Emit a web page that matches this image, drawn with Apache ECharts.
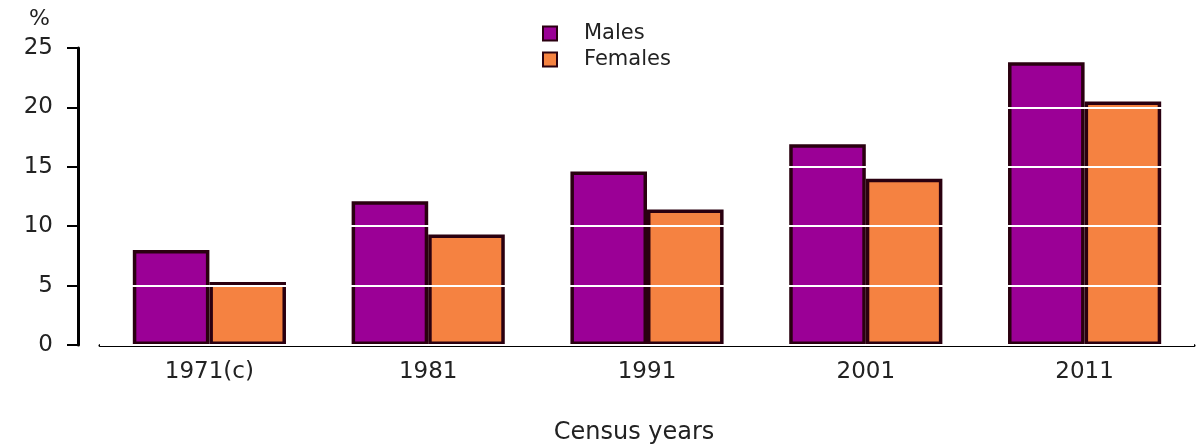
<!DOCTYPE html>
<html><head><meta charset="utf-8">
<script src="https://cdn.jsdelivr.net/npm/echarts@6/dist/echarts.min.js"></script>
<style>html,body{margin:0;padding:0;background:#fff}#c{width:1198px;height:445px}</style>
</head><body><div id="c"></div>
<script>
const categories = ['1971(c)', '1981', '1991', '2001', '2011'];
const males = [8.0, 12.1, 14.6, 16.9, 23.8];
const females = [5.3, 9.3, 11.4, 14.0, 20.5];
const yTicks = [0, 5, 10, 15, 20, 25];

const chart = echarts.init(document.getElementById('c'));
const font = 'DejaVu Sans';
chart.setOption({
  animation: false,
  textStyle: { fontFamily: font },
  title: { text: '%', left: 24, top: 3, textStyle: { fontFamily: font, fontSize: 22, fontWeight: 'normal', color: '#222' } },
  legend: {
    orient: 'vertical', left: 537, top: 18, itemWidth: 14, itemHeight: 14, itemGap: 5,
    icon: 'rect',
    textStyle: { fontFamily: font, fontSize: 21, color: '#222', padding: [0, 0, 0, 22] },
    data: ['Males', 'Females']
  },
  grid: { left: 100, right: 4, top: 48, bottom: 100, outerBoundsMode: 'none', containLabel: false },
  xAxis: {
    type: 'category', data: categories,
    axisLine: { lineStyle: { color: '#000', width: 3 } },
    axisTick: { alignWithLabel: true, length: 6, lineStyle: { color: '#000', width: 2 } },
    axisLabel: { fontFamily: font, fontSize: 23, color: '#222', margin: 16 },
    name: 'Census years', nameLocation: 'middle', nameGap: 76,
    nameTextStyle: { fontFamily: font, fontSize: 24, color: '#222', padding: [0, 26, 0, 0] }
  },
  yAxis: {
    type: 'value', min: yTicks[0], max: yTicks[yTicks.length - 1], interval: 5,
    offset: 22, z: 5,
    axisLine: { show: true, lineStyle: { color: '#000', width: 3 } },
    axisTick: { show: true, length: 11, lineStyle: { color: '#000', width: 2 } },
    axisLabel: { fontFamily: font, fontSize: 23, color: '#222', margin: 25 },
    splitLine: { show: true, lineStyle: { color: '#fff', width: 2 } }
  },
  series: [
    { name: 'Males', type: 'bar', data: males, barGap: '0%', barCategoryGap: '30%',
      itemStyle: { color: '#9b0096', borderColor: '#2a0010', borderWidth: 3.5 } },
    { name: 'Females', type: 'bar', data: females,
      itemStyle: { color: '#f58241', borderColor: '#2a0010', borderWidth: 3.5 } }
  ]
});
</script></body></html>
